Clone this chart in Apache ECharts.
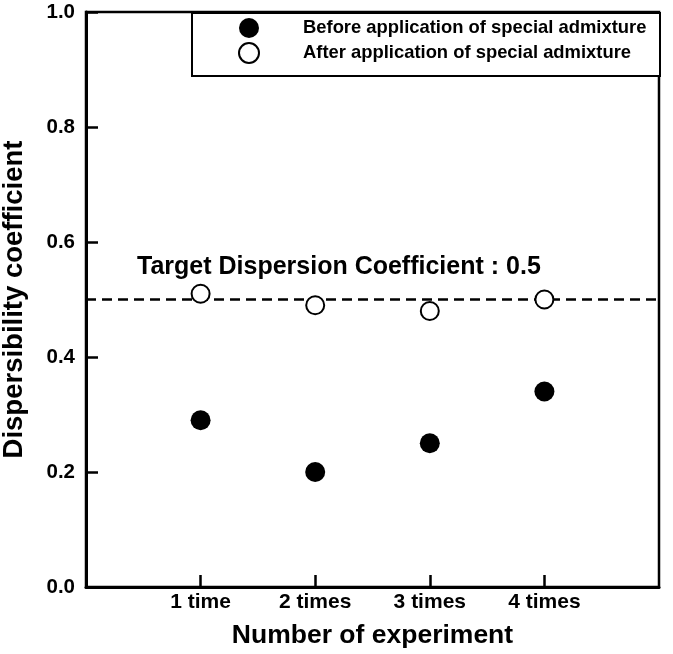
<!DOCTYPE html>
<html>
<head>
<meta charset="utf-8">
<script src="https://cdn.jsdelivr.net/npm/echarts@6/dist/echarts.min.js"></script>
<style>html,body{margin:0;padding:0;background:#fff}#c{width:673px;height:654px}</style>
</head>
<body>
<div id="c"></div>
<script>
var categories = ['1 time', '2 times', '3 times', '4 times'];
var positions = [1, 2, 3, 4];
var beforeValues = [0.29, 0.20, 0.25, 0.34];
var afterValues = [0.51, 0.49, 0.48, 0.50];
var yTicks = [0, 0.2, 0.4, 0.6, 0.8, 1.0];
var targetValue = 0.5;
var seriesNames = ['Before application of special admixture', 'After application of special admixture'];
var targetLabel = 'Target Dispersion Coefficient : 0.5';

var FONT = 'Arial, "Liberation Sans", sans-serif';
function pairs(vals) { return positions.map(function (p, i) { return [p, vals[i]]; }); }

var chart = echarts.init(document.getElementById('c'));
chart.setOption({
  animation: false,
  grid: { left: 86, right: 14, top: 12, bottom: 67, outerBoundsMode: 'none', containLabel: false,
          show: true, borderColor: '#000', borderWidth: 2.5 },
  xAxis: {
    type: 'value', min: 0, max: 5, interval: 1,
    name: 'Number of experiment', nameLocation: 'middle', nameGap: 35,
    nameTextStyle: { fontFamily: FONT, fontWeight: 'bold', fontSize: 26.5, color: '#000' },
    axisLine: { show: true, lineStyle: { color: '#000', width: 3 } },
    axisTick: { show: true, inside: true, length: 12, lineStyle: { color: '#000', width: 2.5 }, customValues: positions },
    axisLabel: {
      customValues: positions, margin: 5,
      formatter: function (v) { var i = positions.indexOf(v); return i >= 0 ? categories[i] : ''; },
      fontFamily: FONT, fontWeight: 'bold', fontSize: 21, color: '#000'
    },
    splitLine: { show: false }
  },
  yAxis: {
    type: 'value', min: 0, max: 1, interval: 0.2,
    name: 'Dispersibility coefficient', nameLocation: 'middle', nameGap: 58,
    nameTextStyle: { fontFamily: FONT, fontWeight: 'bold', fontSize: 27.5, color: '#000' },
    axisLine: { show: true, lineStyle: { color: '#000', width: 3 } },
    axisTick: { show: true, inside: true, length: 12, lineStyle: { color: '#000', width: 2.5 } },
    axisLabel: {
      customValues: yTicks, margin: 11,
      formatter: function (v) { return v.toFixed(1); },
      fontFamily: FONT, fontWeight: 'bold', fontSize: 20.5, color: '#000'
    },
    splitLine: { show: false }
  },
  title: {
    text: targetLabel, left: 137, top: 255, padding: 0,
    textStyle: { fontFamily: FONT, fontWeight: 'bold', fontSize: 25, color: '#000' }
  },
  legend: {
    orient: 'vertical', left: 238, top: 18, itemGap: 4, itemWidth: 20, itemHeight: 20,
    padding: 0,
    data: seriesNames,
    textStyle: { fontFamily: FONT, fontWeight: 'bold', fontSize: 18.4, color: '#000', padding: [0, 0, 0, 39] }
  },
  graphic: [{
    type: 'rect', left: 191, top: 12, z: 0,
    shape: { width: 468, height: 63 },
    style: { fill: '#fff', stroke: '#000', lineWidth: 2 }
  }],
  series: [{
    name: seriesNames[0], type: 'scatter', symbol: 'circle', symbolSize: 20,
    itemStyle: { color: '#000', opacity: 1 },
    data: pairs(beforeValues), z: 3
  }, {
    name: seriesNames[1], type: 'scatter', symbol: 'circle', symbolSize: 18,
    itemStyle: { color: '#fff', borderColor: '#000', borderWidth: 2, opacity: 1 },
    data: pairs(afterValues), z: 4,
    markLine: {
      silent: true, symbol: 'none', label: { show: false },
      lineStyle: { color: '#000', width: 2.5, type: [10, 6], opacity: 1 },
      data: [{ yAxis: targetValue }], z: 2
    }
  }]
});
</script>
</body>
</html>
